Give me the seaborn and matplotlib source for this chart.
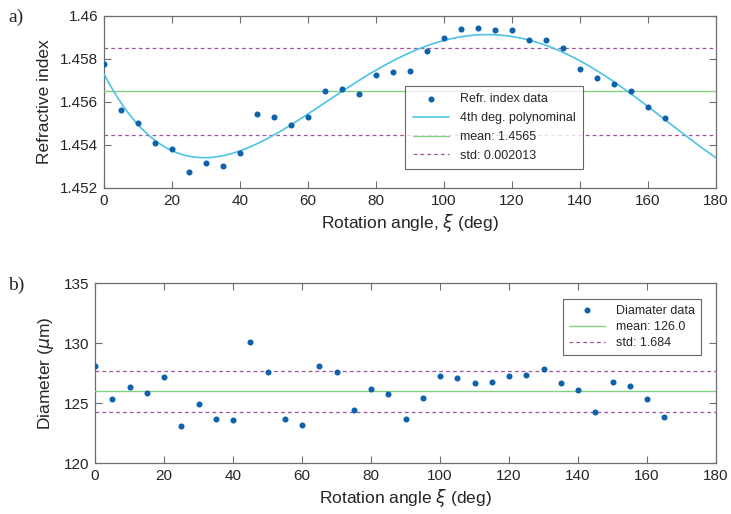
import numpy as np
import pandas as pd
import matplotlib
matplotlib.use("Agg")
import matplotlib.pyplot as plt
import seaborn as sns
from matplotlib.ticker import FuncFormatter, FixedLocator

# ---------------- data ----------------
angle_a = [0, 5, 10, 15, 20, 25, 30, 35, 40, 45, 50, 55, 60, 65, 70, 75, 80, 85,
           90, 95, 100, 105, 110, 115, 120, 125, 130, 135, 140, 145, 150, 155, 160, 165]
refr_index = [1.45778, 1.45563, 1.45501, 1.45408, 1.45380, 1.45276, 1.45318, 1.45301,
              1.45363, 1.45544, 1.45529, 1.45493, 1.45532, 1.45653, 1.45659, 1.45637,
              1.45724, 1.45740, 1.45746, 1.45837, 1.45899, 1.45938, 1.45946, 1.45936,
              1.45933, 1.45890, 1.45887, 1.45850, 1.45753, 1.45713, 1.45684, 1.45651,
              1.45577, 1.45524]
refr_mean = 1.4565
refr_std = 0.002013

angle_b = angle_a
diameter = [128.11, 125.33, 126.39, 125.89, 127.19, 123.11, 124.94, 123.72, 123.61,
            130.14, 127.64, 123.69, 123.19, 128.08, 127.64, 124.44, 126.22, 125.75,
            123.72, 125.42, 127.28, 127.14, 126.72, 126.75, 127.25, 127.36, 127.86,
            126.72, 126.08, 124.31, 126.81, 126.44, 125.33, 123.89]
diam_mean = 126.0
diam_std = 1.684

x_ticks = [0, 20, 40, 60, 80, 100, 120, 140, 160, 180]
y_ticks_a = [1.452, 1.454, 1.456, 1.458, 1.46]
y_ticks_b = [120, 125, 130, 135]

# ---------------- style ----------------
sns.set_theme(style="white")
plt.rcParams['font.family'] = ['Liberation Sans', 'DejaVu Sans']
plt.rcParams['mathtext.fontset'] = 'dejavusans'

DOT = '#0E62AC'
CURVE = '#4CC3E6'
MEAN = '#86D082'
STD = '#A0559A'
FRAME = '#6e6e6e'
TXT = '#262626'

fig = plt.figure(figsize=(7.31, 5.14), dpi=100)
ax1 = fig.add_axes([104/731, 1-188/514, 612/731, 172/514])
ax2 = fig.add_axes([95/731, 1-463.3/514, 621/731, 180/514])

# ----- top panel -----
df_a = pd.DataFrame({'angle': angle_a, 'n': refr_index})
coef = np.polyfit(df_a['angle'], df_a['n'], 4)
xf = np.linspace(0, 180, 400)
df_fit = pd.DataFrame({'angle': xf, 'n': np.polyval(coef, xf)})

sns.scatterplot(data=df_a, x='angle', y='n', ax=ax1, color=DOT, s=19,
                linewidth=0, label='Refr. index data', zorder=5)
sns.lineplot(data=df_fit, x='angle', y='n', ax=ax1, color=CURVE, lw=1.2,
             label='4th deg. polynominal', zorder=4)
ax1.axhline(refr_mean, color=MEAN, lw=1.0, label=f'mean: {refr_mean}', zorder=3)
ax1.axhline(refr_mean + refr_std, color=STD, lw=0.9, ls=(0, (3, 2.5)),
            label=f'std: {refr_std}', zorder=3)
ax1.axhline(refr_mean - refr_std, color=STD, lw=0.9, ls=(0, (3, 2.5)), zorder=3)
ax1.set_xlim(0, 180)
ax1.set_ylim(1.452, 1.46)
ax1.yaxis.set_major_locator(FixedLocator(y_ticks_a))
ax1.yaxis.set_major_formatter(FuncFormatter(lambda v, p: f"{v:g}"))
ax1.set_xlabel(r'Rotation angle, $\xi$ (deg)', fontsize=12.5, color=TXT, labelpad=3)
ax1.set_ylabel('Refractive index', fontsize=12.5, color=TXT, labelpad=6)
leg1 = ax1.legend(loc='upper left', bbox_to_anchor=(301/612, 1-69.7/172),
                  fontsize=9, frameon=True, fancybox=False, handlelength=2.9,
                  borderpad=0.6, labelspacing=0.55, handletextpad=0.9,
                  borderaxespad=0)
leg1.get_frame().set_edgecolor('#404040')
leg1.get_frame().set_linewidth(0.8)

# ----- bottom panel -----
df_b = pd.DataFrame({'angle': angle_b, 'd': diameter})
sns.scatterplot(data=df_b, x='angle', y='d', ax=ax2, color=DOT, s=19,
                linewidth=0, label='Diamater data', zorder=5)
ax2.axhline(diam_mean, color=MEAN, lw=1.0, label=f'mean: {diam_mean:.1f}', zorder=3)
ax2.axhline(diam_mean + diam_std, color=STD, lw=0.9, ls=(0, (3, 2.5)),
            label=f'std: {diam_std}', zorder=3)
ax2.axhline(diam_mean - diam_std, color=STD, lw=0.9, ls=(0, (3, 2.5)), zorder=3)
ax2.set_xlim(0, 180)
ax2.set_ylim(120, 135)
ax2.yaxis.set_major_locator(FixedLocator(y_ticks_b))
ax2.set_xlabel(r'Rotation angle $\xi$ (deg)', fontsize=12.5, color=TXT, labelpad=3)
ax2.set_ylabel(r'Diameter ($\mu$m)', fontsize=12.5, color=TXT, labelpad=6)
leg2 = ax2.legend(loc='upper right', bbox_to_anchor=(1-15.3/621, 1-15.7/180),
                  fontsize=9, frameon=True, fancybox=False, handlelength=2.9,
                  borderpad=0.45, labelspacing=0.35, handletextpad=0.9,
                  borderaxespad=0)
leg2.get_frame().set_edgecolor('#404040')
leg2.get_frame().set_linewidth(0.8)

for ax in (ax1, ax2):
    ax.xaxis.set_major_locator(FixedLocator(x_ticks))
    ax.tick_params(direction='in', length=5, width=0.8, color=FRAME,
                   labelsize=11, labelcolor=TXT, top=True, right=True,
                   left=True, bottom=True, pad=4)
    for s in ax.spines.values():
        s.set_color(FRAME)
        s.set_linewidth(0.9)
    ax.set_facecolor('white')

fig.text(8/731, 1-22/514, 'a)', fontsize=14, family='Liberation Serif', color=TXT)
fig.text(8/731, 1-290/514, 'b)', fontsize=14, family='Liberation Serif', color=TXT)

fig.savefig('out.png', dpi=100, facecolor='white')
